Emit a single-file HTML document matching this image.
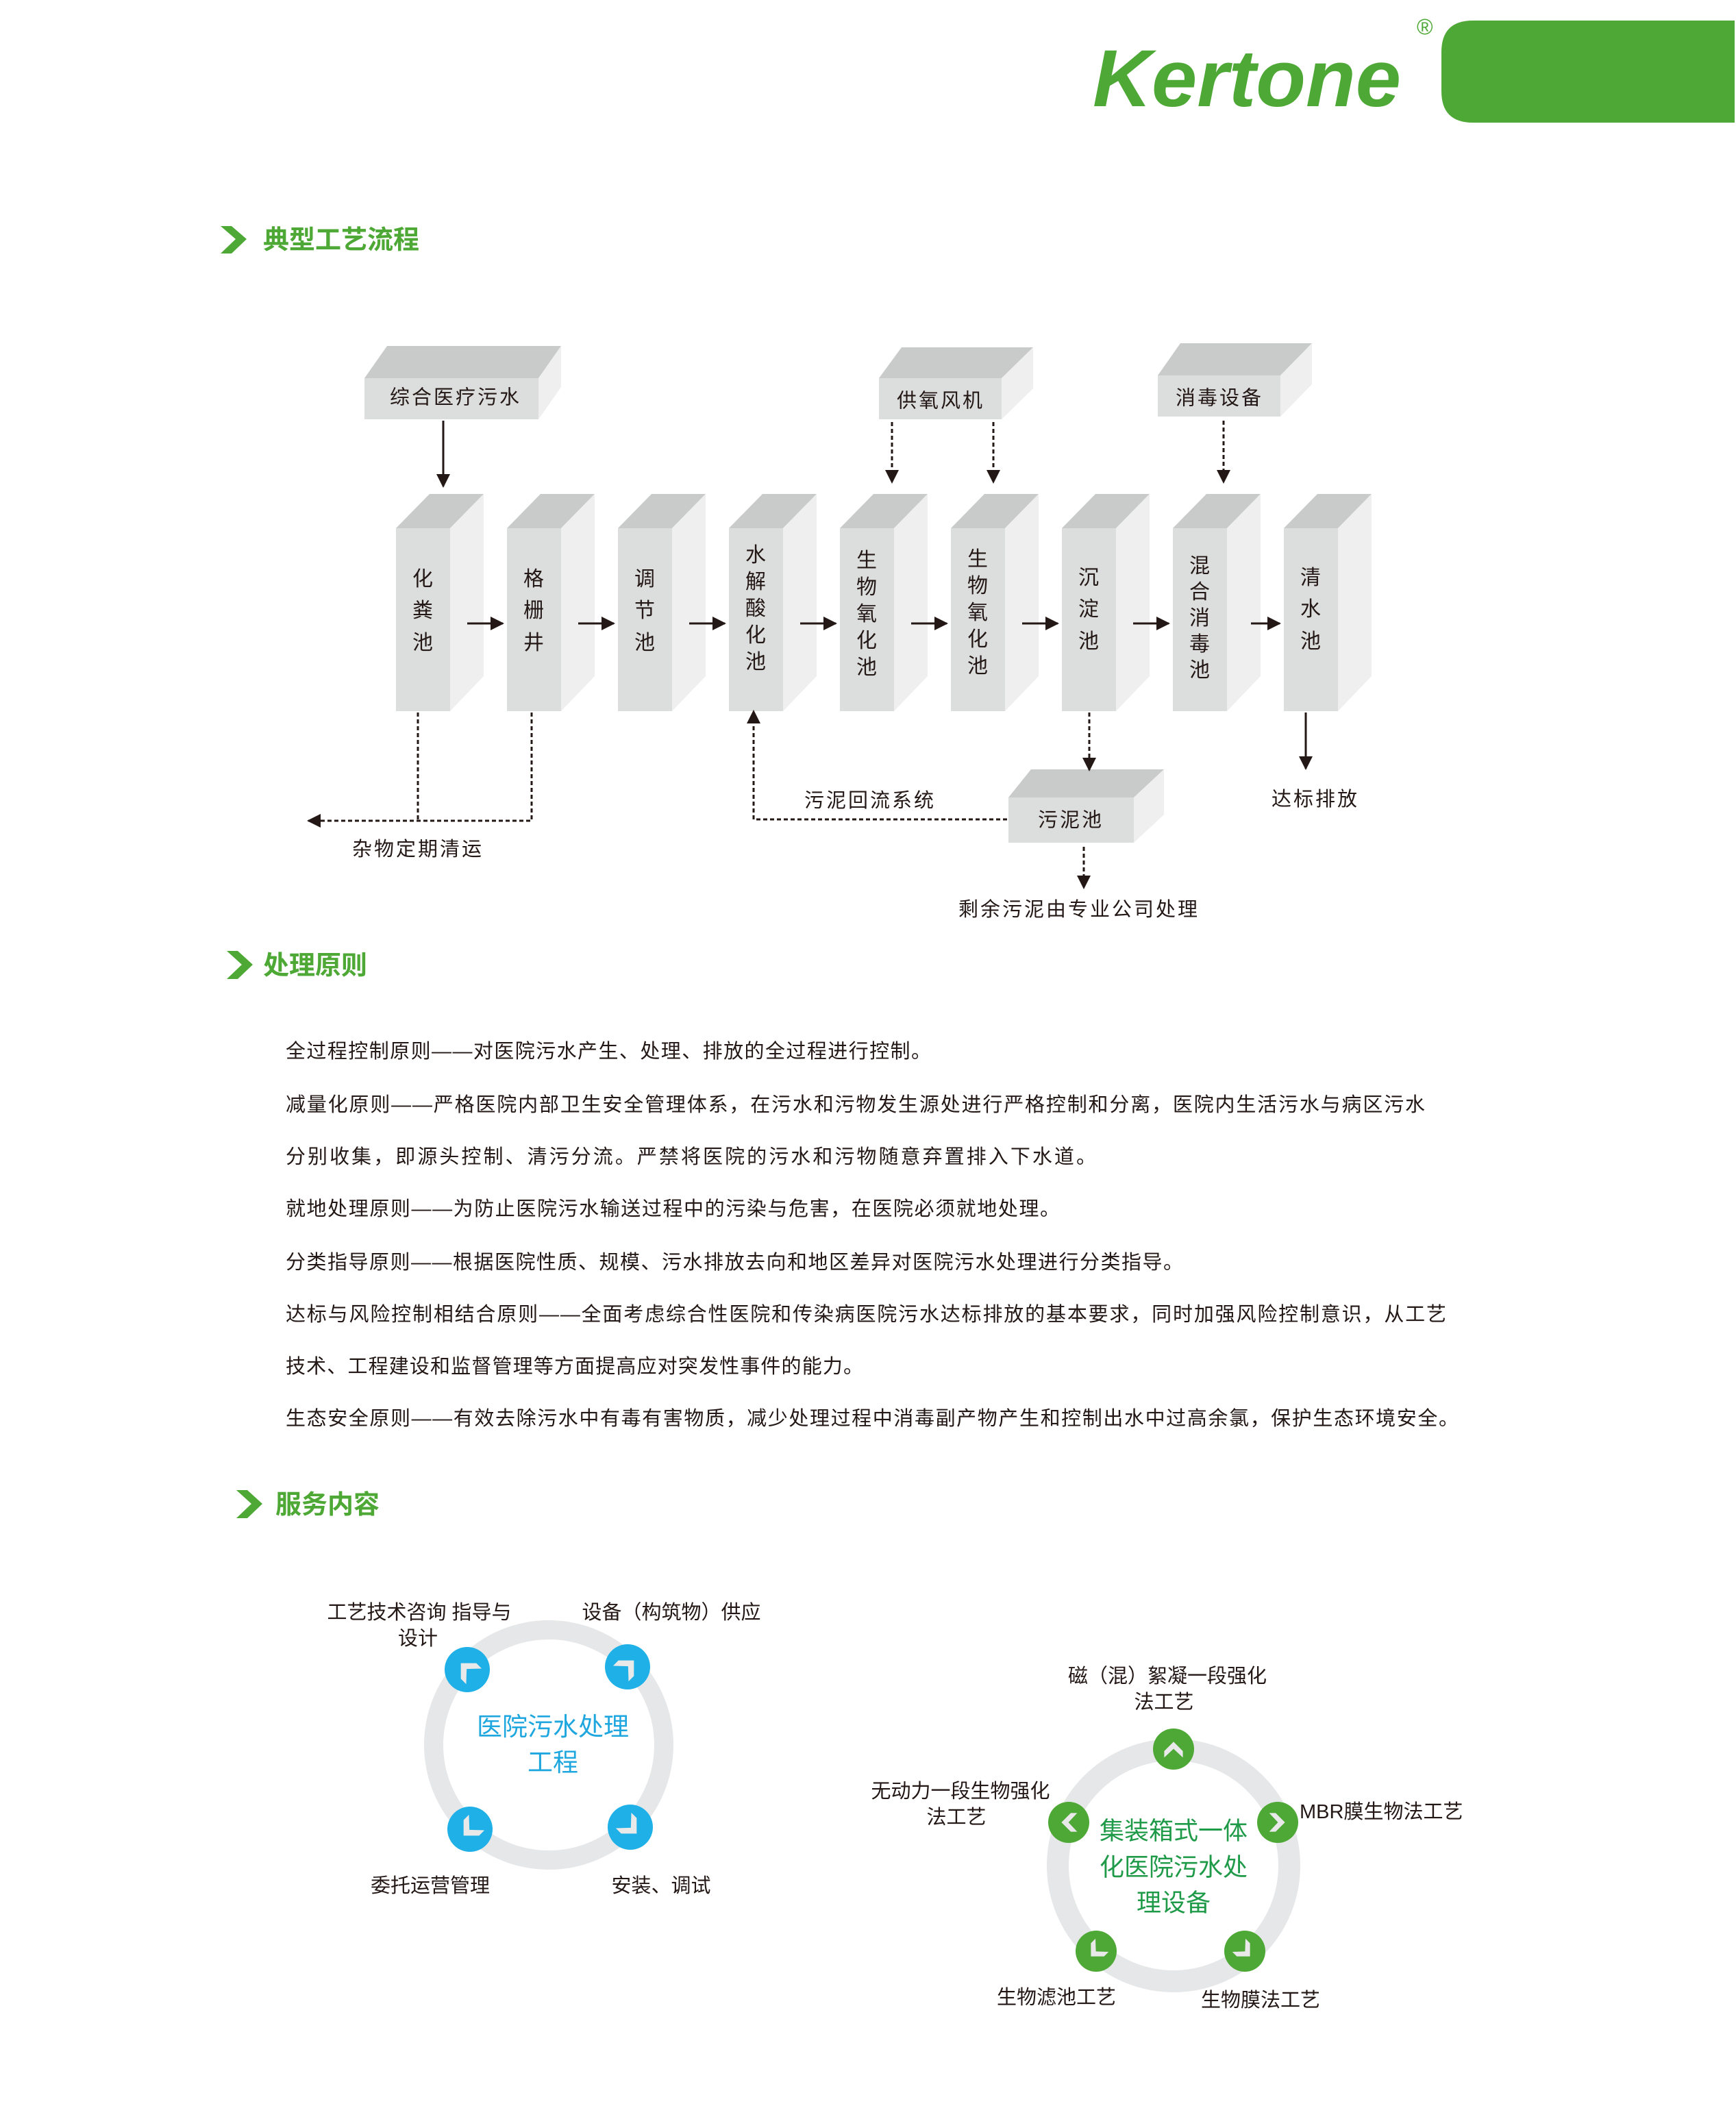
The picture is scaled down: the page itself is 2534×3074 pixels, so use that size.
<!DOCTYPE html>
<html><head><meta charset="utf-8"><style>
html,body{margin:0;padding:0;background:#fff}
svg{display:block}
text{font-family:"Liberation Sans","Noto Sans CJK SC",sans-serif}
</style></head><body>
<svg width="2534" height="3074" viewBox="0 0 2534 3074" xmlns="http://www.w3.org/2000/svg">
<defs>
<marker id="ahb" viewBox="0 0 10 10" refX="9" refY="5" markerWidth="20" markerHeight="20" markerUnits="userSpaceOnUse" orient="auto"><path d="M0,0L10,5L0,10z" fill="#231815"/></marker>
<g id="chev"><polygon points="0,-16 16,0 16,11 0,-4 -16,11 -16,0" fill="#e9e9ea"/></g>
</defs>

<!-- logo -->
<text x="1595" y="155" font-size="118" font-style="italic" font-weight="bold" fill="#4ea835" textLength="450" lengthAdjust="spacingAndGlyphs">Kertone</text>
<text x="2068" y="50" font-size="32" fill="#4ea835">®</text>
<path d="M2150,30 L2532,30 L2532,179 L2150,179 Q2104,179 2104,133 L2104,76 Q2104,30 2150,30z" fill="#4ea835"/>

<!-- section headers -->
<g fill="#4ea835">
<polygon points="322,330 338,330 360,349 338,370 322,370 344,349"/>
<text x="384" y="363" font-size="38" font-weight="bold">典型工艺流程</text>
<polygon points="331,1388 347,1388 369,1408 347,1429 331,1429 353,1408"/>
<text x="384" y="1422" font-size="38" font-weight="bold">处理原则</text>
<polygon points="345,2175 361,2175 383,2195 361,2216 345,2216 367,2195"/>
<text x="402" y="2209" font-size="38" font-weight="bold">服务内容</text>
</g>

<!-- top boxes -->
<g>
<polygon points="532,552 565,505 819,505 786,552" fill="#c9caca"/><polygon points="786,552 819,505 819,565 786,612" fill="#efefef"/><rect x="532" y="552" width="254" height="60" fill="#dcdddd"/>
<polygon points="1283,552 1316,507 1508,507 1462,552" fill="#c9caca"/><polygon points="1462,552 1508,507 1508,567 1462,612" fill="#efefef"/><rect x="1283" y="552" width="179" height="60" fill="#dcdddd"/>
<polygon points="1690,548 1723,501 1915,501 1869,548" fill="#c9caca"/><polygon points="1869,548 1915,501 1915,561 1869,608" fill="#efefef"/><rect x="1690" y="548" width="179" height="60" fill="#dcdddd"/>
<polygon points="1472,1164 1505,1123 1699,1123 1655,1164" fill="#c9caca"/><polygon points="1655,1164 1699,1123 1699,1189 1655,1230" fill="#efefef"/><rect x="1472" y="1164" width="183" height="66" fill="#dcdddd"/>
</g>
<g font-size="29" fill="#231815" text-anchor="middle">
<text x="665" y="582" dominant-baseline="middle" letter-spacing="3">综合医疗污水</text>
<text x="1373" y="587" dominant-baseline="middle" letter-spacing="3">供氧风机</text>
<text x="1780" y="583" dominant-baseline="middle" letter-spacing="3">消毒设备</text>
<text x="1563" y="1199" dominant-baseline="middle" letter-spacing="3">污泥池</text>
</g>

<!-- columns -->
<g>
<g transform="translate(578,0)"><polygon points="0,771 49,721 128,721 79,771" fill="#c9caca"/><polygon points="79,771 128,721 128,987 79,1038" fill="#efefef"/><rect x="0" y="771" width="79" height="267" fill="#dcdddd"/></g>
<g transform="translate(740,0)"><polygon points="0,771 49,721 128,721 79,771" fill="#c9caca"/><polygon points="79,771 128,721 128,987 79,1038" fill="#efefef"/><rect x="0" y="771" width="79" height="267" fill="#dcdddd"/></g>
<g transform="translate(902,0)"><polygon points="0,771 49,721 128,721 79,771" fill="#c9caca"/><polygon points="79,771 128,721 128,987 79,1038" fill="#efefef"/><rect x="0" y="771" width="79" height="267" fill="#dcdddd"/></g>
<g transform="translate(1064,0)"><polygon points="0,771 49,721 128,721 79,771" fill="#c9caca"/><polygon points="79,771 128,721 128,987 79,1038" fill="#efefef"/><rect x="0" y="771" width="79" height="267" fill="#dcdddd"/></g>
<g transform="translate(1226,0)"><polygon points="0,771 49,721 128,721 79,771" fill="#c9caca"/><polygon points="79,771 128,721 128,987 79,1038" fill="#efefef"/><rect x="0" y="771" width="79" height="267" fill="#dcdddd"/></g>
<g transform="translate(1388,0)"><polygon points="0,771 49,721 128,721 79,771" fill="#c9caca"/><polygon points="79,771 128,721 128,987 79,1038" fill="#efefef"/><rect x="0" y="771" width="79" height="267" fill="#dcdddd"/></g>
<g transform="translate(1550,0)"><polygon points="0,771 49,721 128,721 79,771" fill="#c9caca"/><polygon points="79,771 128,721 128,987 79,1038" fill="#efefef"/><rect x="0" y="771" width="79" height="267" fill="#dcdddd"/></g>
<g transform="translate(1712,0)"><polygon points="0,771 49,721 128,721 79,771" fill="#c9caca"/><polygon points="79,771 128,721 128,987 79,1038" fill="#efefef"/><rect x="0" y="771" width="79" height="267" fill="#dcdddd"/></g>
<g transform="translate(1874,0)"><polygon points="0,771 49,721 128,721 79,771" fill="#c9caca"/><polygon points="79,771 128,721 128,987 79,1038" fill="#efefef"/><rect x="0" y="771" width="79" height="267" fill="#dcdddd"/></g>
</g>
<g font-size="30" fill="#231815" text-anchor="middle" dominant-baseline="middle">
<text x="617" y="847">化</text><text x="617" y="893">粪</text><text x="617" y="940">池</text>
<text x="779" y="847">格</text><text x="779" y="893">栅</text><text x="779" y="940">井</text>
<text x="941" y="847">调</text><text x="941" y="893">节</text><text x="941" y="940">池</text>
<text x="1103" y="812">水</text><text x="1103" y="851">解</text><text x="1103" y="890">酸</text><text x="1103" y="929">化</text><text x="1103" y="968">池</text>
<text x="1265" y="820">生</text><text x="1265" y="859">物</text><text x="1265" y="898">氧</text><text x="1265" y="937">化</text><text x="1265" y="976">池</text>
<text x="1427" y="818">生</text><text x="1427" y="857">物</text><text x="1427" y="896">氧</text><text x="1427" y="935">化</text><text x="1427" y="974">池</text>
<text x="1589" y="845">沉</text><text x="1589" y="891">淀</text><text x="1589" y="938">池</text>
<text x="1751" y="828">混</text><text x="1751" y="866">合</text><text x="1751" y="904">消</text><text x="1751" y="942">毒</text><text x="1751" y="980">池</text>
<text x="1913" y="845">清</text><text x="1913" y="891">水</text><text x="1913" y="938">池</text>
</g>

<!-- connectors -->
<g stroke="#231815" stroke-width="3" fill="none">
<line x1="682" y1="910" x2="734" y2="910" marker-end="url(#ahb)"/>
<line x1="844" y1="910" x2="896" y2="910" marker-end="url(#ahb)"/>
<line x1="1006" y1="910" x2="1058" y2="910" marker-end="url(#ahb)"/>
<line x1="1168" y1="910" x2="1220" y2="910" marker-end="url(#ahb)"/>
<line x1="1330" y1="910" x2="1382" y2="910" marker-end="url(#ahb)"/>
<line x1="1492" y1="910" x2="1544" y2="910" marker-end="url(#ahb)"/>
<line x1="1654" y1="910" x2="1706" y2="910" marker-end="url(#ahb)"/>
<line x1="1826" y1="910" x2="1868" y2="910" marker-end="url(#ahb)"/>
<line x1="647" y1="614" x2="647" y2="710" marker-end="url(#ahb)"/>
<line x1="1906" y1="1040" x2="1906" y2="1122" marker-end="url(#ahb)"/>
</g>
<g stroke="#231815" stroke-width="3" fill="none" stroke-dasharray="6,4">
<line x1="1302" y1="616" x2="1302" y2="704" marker-end="url(#ahb)"/>
<line x1="1450" y1="616" x2="1450" y2="704" marker-end="url(#ahb)"/>
<line x1="1786" y1="614" x2="1786" y2="704" marker-end="url(#ahb)"/>
<polyline points="610,1040 610,1198"/>
<polyline points="776,1040 776,1198 450,1198" marker-end="url(#ahb)"/>
<polyline points="1470,1196 1100,1196 1100,1038" marker-end="url(#ahb)"/>
<line x1="1590" y1="1040" x2="1590" y2="1124" marker-end="url(#ahb)"/>
<line x1="1582" y1="1236" x2="1582" y2="1296" marker-end="url(#ahb)"/>
</g>
<g font-size="29" fill="#231815" text-anchor="middle" letter-spacing="3">
<text x="610" y="1249">杂物定期清运</text>
<text x="1270" y="1178">污泥回流系统</text>
<text x="1920" y="1176">达标排放</text>
<text x="1575" y="1337">剩余污泥由专业公司处理</text>
</g>

<!-- paragraphs -->
<g font-size="29" fill="#231815" lengthAdjust="spacingAndGlyphs">
<text x="417" y="1544" textLength="942">全过程控制原则——对医院污水产生、处理、排放的全过程进行控制。</text>
<text x="417" y="1622" textLength="1663">减量化原则——严格医院内部卫生安全管理体系，在污水和污物发生源处进行严格控制和分离，医院内生活污水与病区污水</text>
<text x="417" y="1698" textLength="1183">分别收集，即源头控制、清污分流。严禁将医院的污水和污物随意弃置排入下水道。</text>
<text x="417" y="1774" textLength="1130">就地处理原则——为防止医院污水输送过程中的污染与危害，在医院必须就地处理。</text>
<text x="417" y="1852" textLength="1310">分类指导原则——根据医院性质、规模、污水排放去向和地区差异对医院污水处理进行分类指导。</text>
<text x="417" y="1928" textLength="1694">达标与风险控制相结合原则——全面考虑综合性医院和传染病医院污水达标排放的基本要求，同时加强风险控制意识，从工艺</text>
<text x="417" y="2004" textLength="843">技术、工程建设和监督管理等方面提高应对突发性事件的能力。</text>
<text x="417" y="2080" textLength="1712">生态安全原则——有效去除污水中有毒有害物质，减少处理过程中消毒副产物产生和控制出水中过高余氯，保护生态环境安全。</text>
</g>

<!-- left circle -->
<circle cx="801" cy="2547" r="168" fill="none" stroke="#e6e7e8" stroke-width="28"/>
<g fill="#1fb0e8">
<circle cx="682" cy="2437" r="33"/><circle cx="916" cy="2433" r="33"/><circle cx="686" cy="2670" r="33"/><circle cx="920" cy="2667" r="33"/>
</g>
<use href="#chev" transform="translate(684,2439) rotate(-45)"/>
<use href="#chev" transform="translate(914,2435) rotate(45)"/>
<use href="#chev" transform="translate(688,2668) rotate(-135)"/>
<use href="#chev" transform="translate(918,2665) rotate(135)"/>
<g font-size="37" fill="#1ea6df" text-anchor="middle" dominant-baseline="middle">
<text x="807" y="2523">医院污水处理</text><text x="807" y="2575">工程</text>
</g>
<g font-size="29" fill="#231815" text-anchor="middle">
<text x="612" y="2363">工艺技术咨询 指导与</text>
<text x="610" y="2401">设计</text>
<text x="980" y="2363">设备（构筑物）供应</text>
<text x="628" y="2762">委托运营管理</text>
<text x="965" y="2762">安装、调试</text>
</g>

<!-- right circle -->
<circle cx="1713" cy="2723" r="169" fill="none" stroke="#e6e7e8" stroke-width="32"/>
<g fill="#4ea835">
<circle cx="1713" cy="2553" r="30"/><circle cx="1560" cy="2660" r="30"/><circle cx="1865" cy="2660" r="30"/><circle cx="1600" cy="2848" r="30"/><circle cx="1817" cy="2848" r="30"/>
</g>
<use href="#chev" transform="translate(1713,2556) scale(0.85)"/>
<use href="#chev" transform="translate(1563,2660) rotate(-90) scale(0.85)"/>
<use href="#chev" transform="translate(1862,2660) rotate(90) scale(0.85)"/>
<use href="#chev" transform="translate(1602,2846) rotate(-135) scale(0.85)"/>
<use href="#chev" transform="translate(1815,2846) rotate(135) scale(0.85)"/>
<g font-size="36" fill="#1f9a48" text-anchor="middle" dominant-baseline="middle">
<text x="1713" y="2675">集装箱式一体</text><text x="1713" y="2728">化医院污水处</text><text x="1713" y="2780">理设备</text>
</g>
<g font-size="29" fill="#231815" text-anchor="middle">
<text x="1704" y="2456">磁（混）絮凝一段强化</text>
<text x="1699" y="2494">法工艺</text>
<text x="1402" y="2624">无动力一段生物强化</text>
<text x="1396" y="2662">法工艺</text>
<text x="1897" y="2654" text-anchor="start">MBR膜生物法工艺</text>
<text x="1542" y="2925">生物滤池工艺</text>
<text x="1840" y="2929">生物膜法工艺</text>
</g>
</svg>
</body></html>
